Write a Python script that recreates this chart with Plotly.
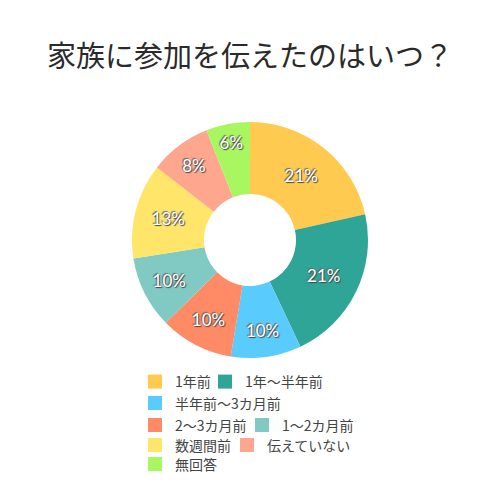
import plotly.graph_objects as go

# Data
labels = ['1年前', '1年〜半年前', '半年前〜3カ月前', '2〜3カ月前', '1〜2カ月前',
          '数週間前', '伝えていない', '無回答']
shares = [21.4, 21.4, 9.6, 10.0, 9.8, 13.0, 8.4, 6.0]
colors = ['#FFCA4F', '#2EA596', '#5ACBFD', '#FF8A66', '#80CAC3',
          '#FFE56A', '#FFA68F', '#A9F760']

# where each legend entry sits (paper coords), mimicking the wrapped legend
legend_x = [0.254, 0.394, 0.254, 0.254, 0.468, 0.254, 0.438, 0.254]
legend_y = [0.252, 0.252, 0.209, 0.165, 0.165, 0.125, 0.125, 0.087]

title_text = '家族に参加を伝えたのはいつ？'
jp_font = 'Noto Sans CJK JP'

fig = go.Figure()

fig.add_trace(go.Pie(
    labels=labels,
    values=shares,
    sort=False,
    direction='clockwise',
    hole=0.39,
    marker=dict(colors=colors, line=dict(width=0)),
    texttemplate='%{percent:.0%}',
    textposition='inside',
    insidetextorientation='horizontal',
    textfont=dict(family='Lato, ' + jp_font, size=17, color='white',
                  shadow='1px 1px 1px #444, -1px -1px 1px #666'),
    domain=dict(x=[0.248, 0.720], y=[0.300, 0.772]),
    showlegend=False,
    hoverinfo='label+percent',
))

# one tiny legend per entry so the rows wrap like the original
legend_layouts = {}
for i, lab in enumerate(labels):
    name = 'legend' if i == 0 else f'legend{i + 1}'
    fig.add_trace(go.Scatter(
        x=[None], y=[None],
        mode='markers',
        name=lab,
        marker=dict(symbol='square', size=14, color=colors[i], line=dict(width=0)),
        legend=name,
        showlegend=True,
    ))
    legend_layouts[name] = dict(
        orientation='h',
        x=legend_x[i], xanchor='left',
        y=legend_y[i], yanchor='middle',
        font=dict(family=jp_font, size=14, color='#444'),
        bgcolor='rgba(0,0,0,0)',
        itemclick=False, itemdoubleclick=False,
    )

fig.update_layout(
    width=500, height=500,
    margin=dict(l=0, r=0, t=0, b=0),
    paper_bgcolor='white',
    plot_bgcolor='white',
    title=dict(text=title_text, x=0.484, xanchor='center', y=0.902, yanchor='middle',
               font=dict(family=jp_font, size=29, color='#2a2a2a')),
    xaxis=dict(visible=False),
    yaxis=dict(visible=False),
    **legend_layouts,
)

fig.write_html('out.html')
